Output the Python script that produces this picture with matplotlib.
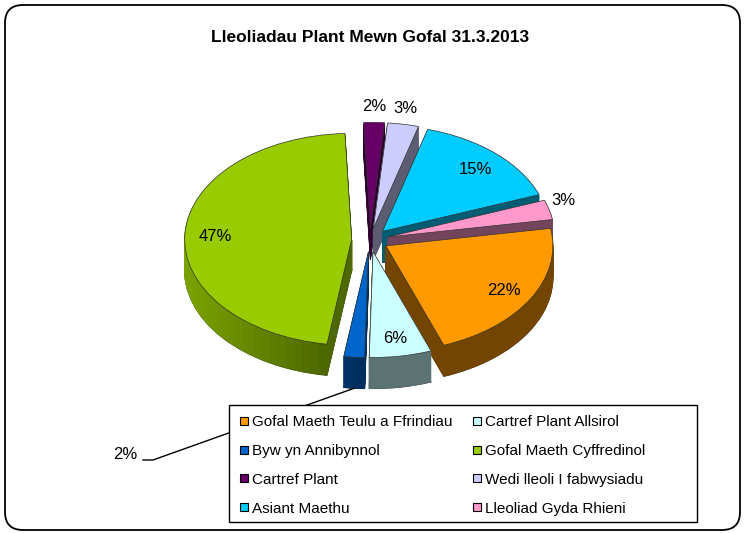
import numpy as np
import matplotlib
matplotlib.use('Agg')
import matplotlib.pyplot as plt
from matplotlib.patches import Wedge, Rectangle, FancyBboxPatch
from matplotlib.collections import PatchCollection
from matplotlib.transforms import Affine2D
from matplotlib import colors as mcolors

plt.rcParams['font.family'] = ['Liberation Sans', 'DejaVu Sans']

# data
title = 'Lleoliadau Plant Mewn Gofal 31.3.2013'
labels = ['Gofal Maeth Teulu a Ffrindiau', 'Cartref Plant Allsirol',
          'Byw yn Annibynnol', 'Gofal Maeth Cyffredinol',
          'Cartref Plant', 'Wedi lleoli I fabwysiadu',
          'Asiant Maethu', 'Lleoliad Gyda Rhieni']
shares = [22, 6, 2, 47, 2, 3, 15, 3]
colours = ['#FF9900', '#CCFFFF', '#0066CC', '#99CC00',
           '#660066', '#CCCCFF', '#00CCFF', '#FF99CC']

# pie geometry (pixels), angles clockwise from 12 o'clock
cx, cy, rx, ry = 370, 240, 167, 106
depth = 31
explode = 0.11
start = 80.5

fig = plt.figure(figsize=(7.44, 5.33), dpi=100)
ax = fig.add_axes([0, 0, 1, 1])
ax.set_xlim(0, 744)
ax.set_ylim(533, 0)
ax.axis('off')


def pie_tr(dz):
    return Affine2D().scale(rx, -ry).translate(cx, cy + dz) + ax.transData


def to_px(u, v, dz=0):
    return cx + rx * u, cy - ry * v + dz


def shade(hexcol, th):
    f = 0.45 + 0.35 * max(0.0, -np.sin(np.radians(th)))
    r, g, b = mcolors.to_rgb(hexcol)
    return (r * f, g * f, b * f)


frac = np.array(shares, dtype=float) / sum(shares)
edges = start + 360 * np.concatenate([[0], np.cumsum(frac)])
mids = (edges[:-1] + edges[1:]) / 2
offs = [(explode * np.sin(np.radians(m)), explode * np.cos(np.radians(m))) for m in mids]

# bottom outline first, then the stacked side layers
bottom = [Wedge(offs[i], 1, 90 - edges[i + 1], 90 - edges[i]) for i in range(len(shares))]
ax.add_collection(PatchCollection(bottom, transform=pie_tr(depth), facecolor='none',
                                  edgecolor='#222222', linewidth=0.8, zorder=1))

for dz in range(depth, 0, -1):
    patches, fcs = [], []
    for i in range(len(shares)):
        n = max(1, int(np.ceil((edges[i + 1] - edges[i]) / 3)))
        sub = np.linspace(edges[i], edges[i + 1], n + 1)
        for a, b in zip(sub[:-1], sub[1:]):
            patches.append(Wedge(offs[i], 1, 90 - b, 90 - a))
            fcs.append(shade(colours[i], (a + b) / 2))
    ax.add_collection(PatchCollection(patches, transform=pie_tr(dz), facecolors=fcs,
                                      edgecolors=fcs, linewidth=0.6, zorder=2))

# top faces
tops = [Wedge(offs[i], 1, 90 - edges[i + 1], 90 - edges[i]) for i in range(len(shares))]
ax.add_collection(PatchCollection(tops, transform=pie_tr(0), facecolors=colours,
                                  edgecolor='#333333', linewidth=0.5, zorder=3))

# percentage labels
for i, s in enumerate(shares):
    d = (np.sin(np.radians(mids[i])), np.cos(np.radians(mids[i])))
    txt = '%d%%' % s
    if i == 2:
        # small front slice: label pulled out with a leader line
        ex, ey = to_px(offs[i][0] + d[0], offs[i][1] + d[1], depth)
        ax.plot([ex, 153, 143], [ey, 460, 460], color='black', lw=1.0, zorder=4)
        ax.text(125, 459, txt, ha='center', va='baseline', fontsize=12, zorder=6)
    elif s >= 5:
        x, y = to_px(offs[i][0] + 0.82 * d[0], offs[i][1] + 0.82 * d[1])
        ax.text(x, y + 6, txt, ha='center', va='baseline', fontsize=12, zorder=6)
    else:
        x, y = to_px(1.2 * d[0], 1.2 * d[1])
        ax.text(x, y - 2, txt, ha='center', va='baseline', fontsize=12, zorder=6)

# title
ax.text(370, 42, title, ha='center', va='baseline', fontsize=12.5,
        fontweight='bold', zorder=6)

# legend box
ax.add_patch(Rectangle((229, 405), 468, 117, facecolor='white', edgecolor='black',
                       lw=1.0, zorder=5))
for i, lab in enumerate(labels):
    row, col = divmod(i, 2)
    mx = [244, 477][col]
    my = 421 + row * 28.7
    ax.add_patch(Rectangle((mx - 4, my - 4), 8, 8, facecolor=colours[i],
                           edgecolor='black', lw=0.8, zorder=6))
    ax.text(mx + 8, my + 5.5, lab, ha='left', va='baseline', fontsize=11, zorder=6)

# chart area border
ax.add_patch(FancyBboxPatch((5, 5), 735, 525, boxstyle='round,pad=0,rounding_size=18',
                            fill=False, edgecolor='black', lw=1.3, zorder=7))

fig.savefig('out.png', dpi=100)
